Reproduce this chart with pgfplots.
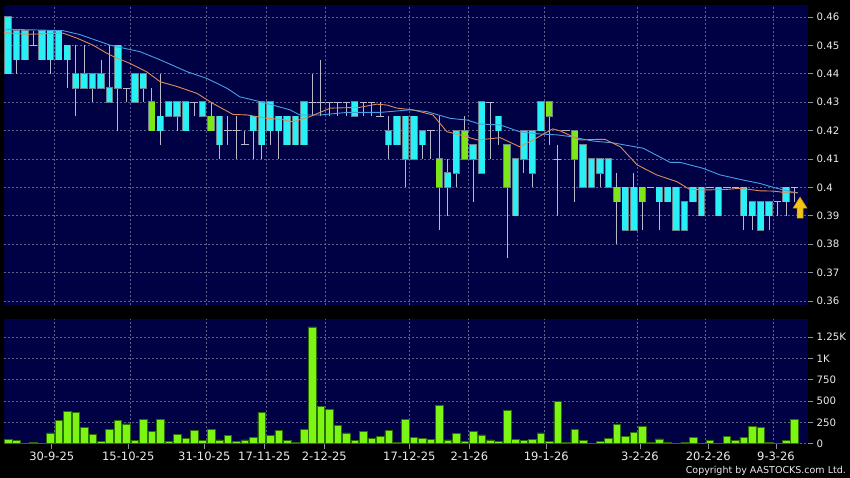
\documentclass[border=0pt]{standalone}
\usepackage{pgfplots}
\pgfplotsset{compat=1.18}
\usepackage{pgfplotstable}
\usepackage{fontspec}
\setmainfont{DejaVu Sans}
\definecolor{navybg}{RGB}{0,0,68}
\definecolor{gridc}{RGB}{95,95,135}
\definecolor{cyanb}{RGB}{40,240,245}
\definecolor{greenb}{RGB}{125,230,25}
\definecolor{outl}{RGB}{105,130,140}
\definecolor{wick}{RGB}{185,185,200}
\definecolor{volg}{RGB}{125,245,20}
\definecolor{volo}{RGB}{45,110,0}
\definecolor{maor}{RGB}{220,140,90}
\definecolor{mabl}{RGB}{70,160,230}
\definecolor{txt}{RGB}{235,235,235}
\definecolor{arrowc}{RGB}{245,195,20}

\pgfdeclareplotmark{uparrow}{%
  \pgfpathmoveto{\pgfpoint{-3pt}{-10.5pt}}%
  \pgfpathlineto{\pgfpoint{-3pt}{-0.5pt}}%
  \pgfpathlineto{\pgfpoint{-7pt}{-0.5pt}}%
  \pgfpathlineto{\pgfpoint{0pt}{10.5pt}}%
  \pgfpathlineto{\pgfpoint{7pt}{-0.5pt}}%
  \pgfpathlineto{\pgfpoint{3pt}{-0.5pt}}%
  \pgfpathlineto{\pgfpoint{3pt}{-10.5pt}}%
  \pgfpathclose
  \pgfusepathqfillstroke}

% cyan (falling) candles: body bottom/top, wick low/high
\pgfplotstableread{
i bot top lo hi
0 0.440 0.460 0.440 0.460
1 0.445 0.455 0.440 0.455
2 0.445 0.455 0.445 0.455
4 0.445 0.455 0.445 0.455
5 0.445 0.455 0.440 0.455
6 0.445 0.455 0.445 0.455
7 0.445 0.450 0.435 0.450
8 0.435 0.440 0.425 0.450
9 0.435 0.440 0.435 0.450
10 0.435 0.440 0.430 0.440
11 0.435 0.440 0.435 0.445
12 0.430 0.435 0.430 0.450
13 0.435 0.450 0.420 0.450
15 0.430 0.440 0.430 0.440
16 0.435 0.440 0.430 0.440
18 0.420 0.425 0.415 0.440
19 0.425 0.430 0.425 0.430
20 0.425 0.430 0.420 0.430
21 0.420 0.430 0.420 0.430
23 0.425 0.430 0.425 0.430
25 0.415 0.425 0.410 0.425
29 0.420 0.425 0.410 0.425
30 0.415 0.430 0.410 0.430
31 0.420 0.430 0.415 0.430
32 0.420 0.425 0.410 0.425
33 0.415 0.425 0.415 0.425
34 0.415 0.425 0.415 0.425
35 0.415 0.430 0.415 0.430
41 0.425 0.430 0.425 0.430
45 0.415 0.420 0.410 0.425
46 0.415 0.425 0.415 0.425
47 0.410 0.425 0.400 0.425
48 0.410 0.425 0.410 0.425
49 0.415 0.420 0.410 0.420
52 0.400 0.405 0.390 0.410
53 0.405 0.420 0.400 0.420
55 0.410 0.415 0.395 0.415
56 0.405 0.430 0.405 0.430
58 0.420 0.425 0.415 0.425
60 0.390 0.410 0.390 0.410
61 0.410 0.420 0.405 0.420
62 0.405 0.420 0.400 0.420
63 0.420 0.430 0.420 0.430
68 0.400 0.415 0.400 0.415
69 0.400 0.410 0.400 0.410
70 0.405 0.410 0.400 0.410
71 0.400 0.410 0.400 0.410
73 0.385 0.400 0.385 0.400
74 0.385 0.400 0.385 0.405
77 0.395 0.400 0.385 0.400
78 0.395 0.400 0.395 0.400
79 0.385 0.400 0.385 0.400
80 0.385 0.395 0.385 0.395
81 0.395 0.400 0.395 0.400
82 0.390 0.400 0.390 0.400
84 0.390 0.400 0.390 0.400
87 0.390 0.400 0.385 0.400
88 0.390 0.395 0.385 0.395
89 0.385 0.395 0.385 0.395
90 0.390 0.395 0.385 0.395
92 0.395 0.400 0.390 0.400
}\cyantab

% green (rising) candles
\pgfplotstableread{
i bot top lo hi
17 0.420 0.430 0.420 0.435
24 0.420 0.425 0.420 0.430
51 0.400 0.410 0.385 0.425
54 0.410 0.420 0.410 0.425
59 0.400 0.415 0.375 0.415
64 0.425 0.430 0.415 0.430
67 0.410 0.420 0.395 0.420
72 0.395 0.400 0.380 0.405
75 0.395 0.400 0.385 0.400
}\greentab

% doji candles
\pgfplotstableread{
i p lo hi
3 0.450 0.450 0.455
14 0.435 0.430 0.435
22 0.430 0.425 0.430
26 0.420 0.415 0.425
27 0.420 0.410 0.425
28 0.415 0.415 0.420
36 0.430 0.425 0.440
37 0.430 0.425 0.445
38 0.430 0.425 0.430
39 0.430 0.425 0.430
40 0.430 0.425 0.430
42 0.430 0.425 0.430
43 0.430 0.425 0.430
44 0.425 0.425 0.430
50 0.420 0.410 0.420
57 0.430 0.410 0.430
65 0.410 0.390 0.415
66 0.420 0.420 0.420
76 0.400 0.400 0.400
83 0.400 0.400 0.400
85 0.400 0.400 0.400
86 0.400 0.400 0.400
91 0.395 0.390 0.395
93 0.400 0.395 0.400
}\dojitab

% volume (as on the axis)
\pgfplotstableread{
i v
0 54
1 42
2 8
3 19
4 5
5 127
6 277
7 377
8 365
9 188
10 108
11 27
12 165
13 270
14 231
15 42
16 285
17 142
18 285
19 31
20 108
21 65
22 158
23 35
24 170
25 46
26 96
27 23
28 46
29 77
30 365
31 100
32 154
33 35
34 15
35 170
36 1369
37 435
38 404
39 215
40 127
41 42
42 146
43 62
44 88
45 154
46 12
47 285
48 77
49 65
50 50
51 450
52 46
53 119
54 27
55 142
56 104
57 46
58 31
59 388
60 50
61 42
62 54
63 127
64 31
65 500
66 15
67 165
68 35
69 5
70 31
71 62
72 223
73 88
74 131
75 200
76 15
77 58
78 15
79 5
80 15
81 73
82 5
83 42
84 5
85 88
86 42
87 77
88 200
89 192
90 15
91 5
92 42
93 281
}\voltab

\pgfplotsset{
  panel/.style={
    scale only axis, width=804pt,
    xmin=-0.473, xmax=94.596,
    axis background/.style={fill=navybg},
    axis line style={draw=none},
    major grid style={gridc, dash pattern=on 2pt off 2pt, line width=0.6pt},
    ytick pos=right, yticklabel pos=right,
    tick align=outside, major tick length=5pt,
    tick style={gridc!70!white, line width=0.6pt},
    y tick label style={font=\fontsize{10.2}{12}\selectfont, text=txt},
    x tick label style={font=\fontsize{11.5}{13}\selectfont, text=txt},
    /pgf/number format/assume math mode=true,
  },
  bodyerr/.style={draw=none, forget plot,
    error bars/.cd, y dir=plus, y explicit, error mark=none},
}

\begin{document}
\begin{tikzpicture}
\fill[black] (0,0) rectangle (850pt,478pt);

% ---------------- price panel ----------------
\begin{axis}[panel, at={(4pt,172.5pt)}, anchor=south west,
  height=300pt, ymin=0.358415, ymax=0.464049,
  xtick={5.47,14.46,23.45,30.54,37.52,47.45,54.48,63.42,74.41,82.45,90.5},
  xticklabels={}, x tick style={draw=none},
  xmajorgrids, ymajorgrids,
  ytick={0.36,0.37,0.38,0.39,0.40,0.41,0.42,0.43,0.44,0.45,0.46},
  yticklabels={0.36,0.37,0.38,0.39,0.4,0.41,0.42,0.43,0.44,0.45,0.46},
]
% wicks
\addplot[bodyerr, error bar style={draw=wick, line width=0.9pt}]
  table[x=i, y=lo, y error plus expr=\thisrow{hi}-\thisrow{lo}] {\cyantab};
\addplot[bodyerr, error bar style={draw=wick, line width=0.9pt}]
  table[x=i, y=lo, y error plus expr=\thisrow{hi}-\thisrow{lo}] {\greentab};
\addplot[bodyerr, error bar style={draw=wick, line width=0.9pt}]
  table[x=i, y=lo, y error plus expr=\thisrow{hi}-\thisrow{lo}] {\dojitab};
% bodies: outline then fill
\addplot[bodyerr, error bar style={draw=outl, line width=7.4pt, shorten <=-0.7pt, shorten >=-0.7pt}]
  table[x=i, y=bot, y error plus expr=\thisrow{top}-\thisrow{bot}] {\cyantab};
\addplot[bodyerr, error bar style={draw=cyanb, line width=5.8pt}]
  table[x=i, y=bot, y error plus expr=\thisrow{top}-\thisrow{bot}] {\cyantab};
\addplot[bodyerr, error bar style={draw=outl, line width=7.4pt, shorten <=-0.7pt, shorten >=-0.7pt}]
  table[x=i, y=bot, y error plus expr=\thisrow{top}-\thisrow{bot}] {\greentab};
\addplot[bodyerr, error bar style={draw=greenb, line width=5.8pt}]
  table[x=i, y=bot, y error plus expr=\thisrow{top}-\thisrow{bot}] {\greentab};
% doji bars
\addplot[only marks, mark=-, mark size=3.7pt, mark options={draw=wick, line width=0.9pt}]
  table[x=i, y=p] {\dojitab};
% moving averages
\addplot[mabl, line width=0.9pt] coordinates {
(-0.47,0.4557) (6.5,0.4552) (8.5,0.4538) (12.06,0.4501) (12.9,0.4495) (15.6,0.4478)
(18,0.4449) (21.2,0.4407) (23.5,0.4384) (25.9,0.4349) (27.4,0.4319) (29.8,0.4302)
(33.35,0.4273) (34.5,0.4255) (36.9,0.4255) (40.1,0.4264) (44,0.4264) (47.5,0.4273)
(49.5,0.4267) (52.3,0.4243) (54.3,0.4237) (55.8,0.4223) (58.2,0.4220) (60.5,0.4196)
(62.9,0.4188) (64.9,0.4185) (66.5,0.4179) (69.2,0.4163) (71.5,0.4157) (75.1,0.4138)
(78.3,0.4088) (79.5,0.4088) (82.2,0.4067) (84.2,0.4044) (86.9,0.4026) (88.9,0.4014)
(90.5,0.4000) (92.5,0.3985) (93.4,0.3981)};
\addplot[maor, line width=0.9pt] coordinates {
(-0.47,0.4545) (2.25,0.4539) (6.5,0.4543) (8.2,0.4525) (10.05,0.4501) (11.7,0.4472)
(12.65,0.4458) (14.4,0.4437) (16.4,0.4407) (18,0.4372) (20,0.4355) (22.35,0.4331)
(24.2,0.4296) (26.6,0.4257) (28.3,0.4255) (30.6,0.4243) (32.2,0.4240) (33.7,0.4231)
(35.7,0.4249) (38.1,0.4279) (41.6,0.4282) (43.6,0.4293) (44.8,0.4290) (46,0.4279)
(47.9,0.4273) (50.25,0.4255) (51.9,0.4196) (53.45,0.4185) (55.5,0.4167) (58.2,0.4175)
(60.5,0.4143) (62.1,0.4167) (64.4,0.4206) (65.3,0.4199) (67.6,0.4167) (69.65,0.4169)
(70.6,0.4169) (72.4,0.4143) (74.4,0.4079) (75.6,0.4061) (76.7,0.4044) (79.1,0.4020)
(80.6,0.3993) (82.65,0.3991) (85,0.3993) (86.6,0.3997) (88.9,0.3988) (90.5,0.3987)
(92.1,0.3981) (93.4,0.3981)};
% marker arrow
\addplot[only marks, mark=uparrow, mark options={fill=arrowc, draw=arrowc!75!black, line width=0.5pt}]
  coordinates {(93.65,0.3929)};
\end{axis}

% ---------------- volume panel ----------------
\begin{axis}[panel, at={(4pt,34.3pt)}, anchor=south west,
  height=124.7pt, ymin=0, ymax=1462,
  xtick={5.17,14.22,23.21,30.31,37.40,47.45,54.55,63.65,74.73,82.81,90.81},
  xticklabels={30-9-25,15-10-25,31-10-25,17-11-25,2-12-25,17-12-25,2-1-26,19-1-26,3-2-26,20-2-26,9-3-26},
  xtick pos=bottom,
  extra x ticks={5.47,14.46,23.45,30.54,37.52,47.45,54.48,63.42,74.41,82.45,90.5},
  extra x tick labels={},
  extra x tick style={grid=major, x tick style={draw=none}},
  ymajorgrids,
  ytick={0,250,500,750,1000,1250},
  yticklabels={0,250,500,750,1K,1.25K},
]
\addplot[ybar, bar width=7.6pt, bar shift=0pt, fill=volg, draw=volo, line width=0.5pt]
  table[x=i, y=v] {\voltab};
\end{axis}

\node[anchor=east, text=txt, font=\fontsize{9.5}{11}\selectfont, inner sep=0pt]
  at (846pt,7.5pt) {Copyright by AASTOCKS.com Ltd.};

\pgfresetboundingbox
\path (0,0) rectangle (850pt,478pt);
\end{tikzpicture}
\end{document}
